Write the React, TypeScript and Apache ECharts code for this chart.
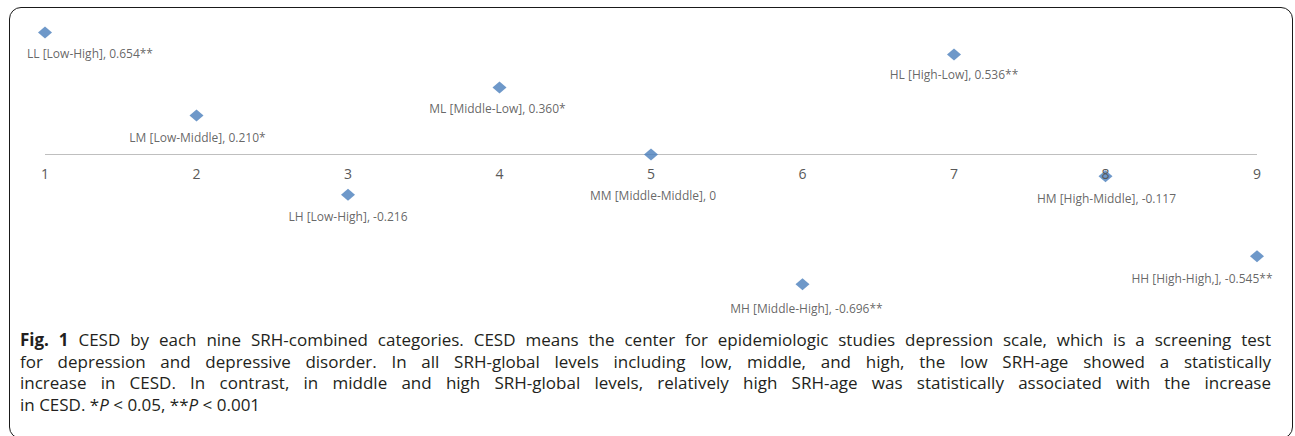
import React, { useEffect, useRef } from "react";
import * as echarts from "echarts";

// ---- data ----
const categories = [
  "LL [Low-High]",
  "LM [Low-Middle]",
  "LH [Low-High]",
  "ML [Middle-Low]",
  "MM [Middle-Middle]",
  "MH [Middle-High]",
  "HL [High-Low]",
  "HM [High-Middle]",
  "HH [High-High,]",
];
const xValues = [1, 2, 3, 4, 5, 6, 7, 8, 9];
const yValues = [0.654, 0.21, -0.216, 0.36, 0, -0.696, 0.536, -0.117, -0.545];
const valueTexts = ["0.654", "0.210", "-0.216", "0.360", "0", "-0.696", "0.536", "-0.117", "-0.545"];
const significance = ["**", "*", "", "*", "", "**", "**", "", "**"];
const xTickLabels = ["1", "2", "3", "4", "5", "6", "7", "8", "9"];
const baselineValue = 0;

// label placement (style, not data)
const labelOffsets: [number, number][] = [
  [45, 21],
  [1, 22],
  [0, 22],
  [-2, 21],
  [2, 41],
  [4, 24],
  [0, 20],
  [1, 22],
  [-55, 22],
];

const FONT = "'Open Sans', 'Noto Sans', sans-serif";

// layout
const CHART_H = 330;
const GRID_TOP = 24;
const GRID_BOTTOM = 26.25;
const Y_MIN = -0.8;
const Y_MAX = 0.7;

export default function App() {
  const ref = useRef<HTMLDivElement>(null);

  useEffect(() => {
    if (!ref.current) return;
    const chart = echarts.init(ref.current, undefined, { renderer: "svg" });
    const data = xValues.map((x, i) => ({
      value: [x, yValues[i]],
      name: `${categories[i]}, ${valueTexts[i]}${significance[i]}`,
      label: { offset: labelOffsets[i] },
    }));
    const gridH = CHART_H - GRID_TOP - GRID_BOTTOM;
    // move the (bottom) x axis up to the zero line
    const axisOffset = -((baselineValue - Y_MIN) / (Y_MAX - Y_MIN)) * gridH;
    chart.setOption({
      animation: false,
      grid: { left: 45, right: 38, top: GRID_TOP, bottom: GRID_BOTTOM },
      xAxis: {
        type: "value",
        min: 1,
        max: 9,
        interval: 1,
        z: 10,
        position: "bottom",
        offset: axisOffset,
        splitLine: { show: false },
        axisTick: { show: false },
        axisLine: { show: false, onZero: false },
        axisLabel: {
          show: true,
          margin: 12,
          fontSize: 14,
          color: "#595959",
          fontFamily: FONT,
          formatter: (v: number) => xTickLabels[Math.round(v) - 1] ?? "",
        },
      },
      yAxis: {
        type: "value",
        min: Y_MIN,
        max: Y_MAX,
        show: false,
        splitLine: { show: false },
      },
      series: [
        {
          type: "scatter",
          symbol: "diamond",
          symbolSize: [14, 12],
          itemStyle: { color: "#4a7ebb" },
          z: 2,
          label: {
            show: true,
            position: "inside",
            fontSize: 12,
            color: "#404040",
            fontFamily: FONT,
            formatter: (p: any) => p.name,
          },
          markLine: {
            z: 1,
            silent: true,
            symbol: "none",
            label: { show: false },
            lineStyle: { type: "solid", color: "#bfbfbf", width: 1 },
            data: [{ yAxis: baselineValue }],
          },
          data,
        },
      ],
    });
    return () => chart.dispose();
  }, []);

  const lineStyle: React.CSSProperties = {
    position: "absolute",
    left: 20,
    width: 1251,
    lineHeight: "21.7px",
    fontSize: 17,
    fontFamily: FONT,
    color: "#231f20",
    textAlign: "justify",
    textAlignLast: "justify",
    whiteSpace: "normal",
  };

  return (
    <div
      style={{
        position: "absolute",
        left: 0,
        top: 0,
        width: 1295,
        height: 436,
        overflow: "hidden",
        background: "#ffffff",
      }}
    >
      <div
        style={{
          position: "absolute",
          left: 9,
          top: 7,
          width: 1284,
          height: 432,
          boxSizing: "border-box",
          border: "1.5px solid #1a1a1a",
          borderRadius: 12,
        }}
      />
      <div ref={ref} style={{ position: "absolute", left: 0, top: 0, width: 1295, height: CHART_H }} />
      <div style={{ ...lineStyle, top: 329 }}>
        <b>Fig. 1</b> CESD by each nine SRH-combined categories. CESD means the center for epidemiologic studies depression scale, which is a screening test
      </div>
      <div style={{ ...lineStyle, top: 350.7 }}>
        for depression and depressive disorder. In all SRH-global levels including low, middle, and high, the low SRH-age showed a statistically
      </div>
      <div style={{ ...lineStyle, top: 372.4 }}>
        increase in CESD. In contrast, in middle and high SRH-global levels, relatively high SRH-age was statistically associated with the increase
      </div>
      <div style={{ ...lineStyle, top: 394.1, textAlign: "left", textAlignLast: "left" }}>
        in CESD. *<i>P</i> &lt; 0.05, **<i>P</i> &lt; 0.001
      </div>
    </div>
  );
}
